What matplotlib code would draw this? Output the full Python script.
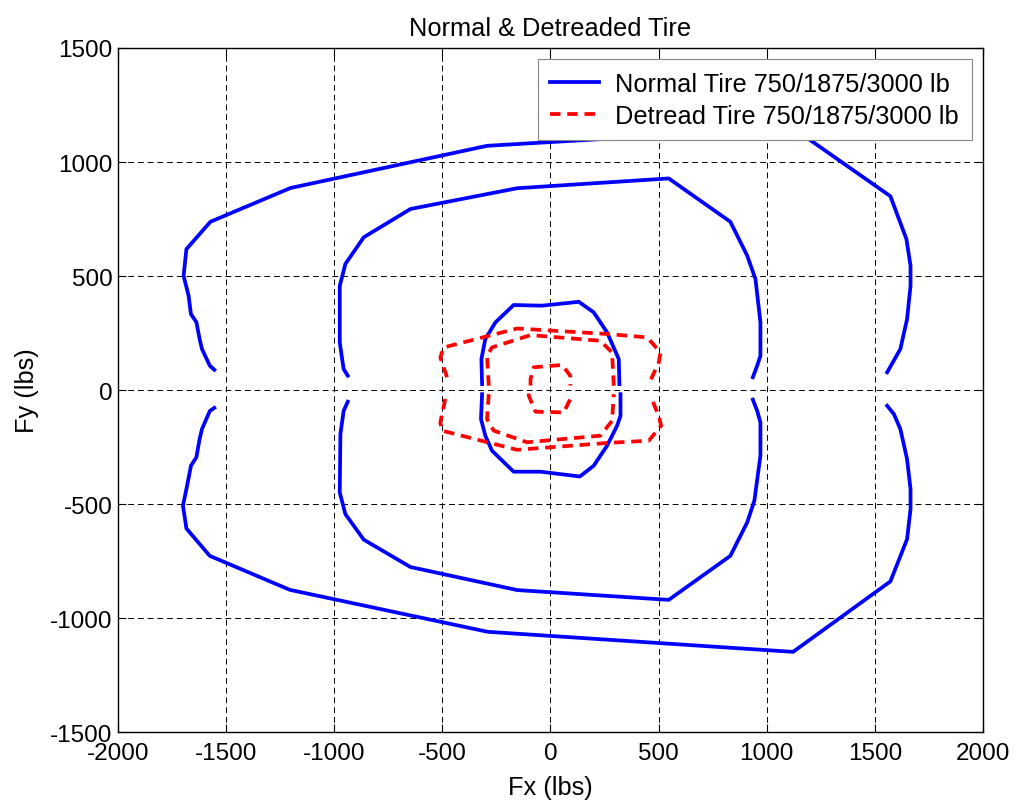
import numpy as np
import matplotlib.pyplot as plt

plt.rcParams['font.family'] = ['Liberation Sans', 'DejaVu Sans']
plt.rcParams['axes.unicode_minus'] = False

# Normal tire friction ellipses, upper (Fy>0) and lower (Fy<0) branches, at 750/1875/3000 lb
n750_up_x = [-316, -319, -301, -254, -170, -39, 131, 200, 262, 316, 319]
n750_up_y = [26, 136, 224, 297, 373, 370, 387, 341, 253, 136, 26]
n750_lo_x = [-316, -321, -301, -270, -170, -46, 136, 200, 262, 308, 324, 324]
n750_lo_y = [-18, -127, -200, -266, -358, -358, -379, -332, -244, -157, -113, -18]

n1875_up_x = [-937, -956, -963, -974, -974, -948, -863, -647, -154, 547, 832, 910, 948, 971, 971, 956, 936]
n1875_up_y = [63, 92, 136, 209, 457, 553, 670, 794, 885, 928, 738, 589, 487, 297, 150, 107, 56]
n1875_lo_x = [-937, -956, -971, -974, -948, -863, -647, -154, 547, 832, 910, 943, 971, 971, 956, 936]
n1875_lo_y = [-51, -91, -193, -449, -544, -656, -776, -877, -920, -727, -580, -485, -288, -142, -91, -42]

n3000_up_x = [-1554, -1575, -1611, -1622, -1637, -1662, -1673, -1696, -1683, -1572, -1202, -293, 1120,
              1572, 1646, 1665, 1665, 1649, 1618, 1557]
n3000_up_y = [89, 107, 180, 224, 298, 333, 414, 501, 618, 738, 886, 1071, 1150,
              850, 662, 545, 457, 311, 180, 78]
n3000_lo_x = [-1554, -1575, -1611, -1622, -1637, -1662, -1680, -1699, -1683, -1575, -1205, -290, 1122,
              1572, 1649, 1665, 1665, 1649, 1618, 1588, 1557]
n3000_lo_y = [-78, -92, -171, -215, -295, -332, -420, -507, -607, -727, -876, -1060, -1148,
              -839, -654, -522, -434, -303, -171, -105, -69]

# Detreaded tire
d750_up_x = [-92, -92, -77, 54, 92, 92]
d750_up_y = [20, 48, 100, 110, 63, 20]
d750_lo_x = [-100, -100, -69, 62, 92, 92]
d750_lo_y = [-15, -25, -95, -98, -39, -15]

d1875_up_x = [-285, -293, -270, -92, 231, 285, 293]
d1875_up_y = [19, 150, 187, 241, 216, 165, 19]
d1875_lo_x = [-285, -293, -262, -108, 231, 285, 293]
d1875_lo_y = [-18, -127, -178, -229, -200, -135, -18]

d3000_up_x = [-478, -509, -493, -154, 262, 447, 509, 501, 462]
d3000_up_y = [56, 143, 187, 270, 246, 231, 165, 121, 41]
d3000_lo_x = [-486, -509, -501, -154, 262, 455, 512, 501, 462]
d3000_lo_y = [-39, -142, -178, -262, -232, -222, -156, -113, -25]


def branch(up_x, up_y, lo_x, lo_y):
    # join both halves with a break in between
    x = np.r_[up_x, np.nan, lo_x]
    y = np.r_[up_y, np.nan, lo_y]
    return x, y


normal = [branch(n750_up_x, n750_up_y, n750_lo_x, n750_lo_y),
          branch(n1875_up_x, n1875_up_y, n1875_lo_x, n1875_lo_y),
          branch(n3000_up_x, n3000_up_y, n3000_lo_x, n3000_lo_y)]
detread = [branch(d750_up_x, d750_up_y, d750_lo_x, d750_lo_y),
           branch(d1875_up_x, d1875_up_y, d1875_lo_x, d1875_lo_y),
           branch(d3000_up_x, d3000_up_y, d3000_lo_x, d3000_lo_y)]

fs = 18.3

fig = plt.figure(figsize=(10.16, 8.03), dpi=100)
ax = fig.add_axes([0.116, 0.087, 0.8515, 0.852])

for i, (x, y) in enumerate(normal):
    ax.plot(x, y, color='blue', lw=2.7, label='Normal Tire 750/1875/3000 lb' if i == 0 else None)
for i, (x, y) in enumerate(detread):
    ax.plot(x, y, color='red', lw=2.7, ls=(0, (2.8, 1.8)),
            label='Detread Tire 750/1875/3000 lb' if i == 0 else None)

ax.set_xlim(-2000, 2000)
ax.set_ylim(-1500, 1500)
ax.set_xticks(np.arange(-2000, 2001, 500))
ax.set_yticks(np.arange(-1500, 1501, 500))
ax.grid(True, color='black', ls=(0, (6, 4)), lw=0.7)
ax.tick_params(direction='in', top=True, right=True, labelsize=17.5, length=6)
ax.tick_params(axis='x', pad=7)
ax.tick_params(axis='y', pad=4)
for s in ax.spines.values():
    s.set_linewidth(1.0)

ax.set_title('Normal & Detreaded Tire', fontsize=fs, pad=9)
ax.set_xlabel('Fx (lbs)', fontsize=fs, labelpad=8)
ax.set_ylabel('Fy (lbs)', fontsize=fs, labelpad=8)

leg = ax.legend(loc='upper right', fontsize=fs, fancybox=False, framealpha=1,
                edgecolor='#888888', handlelength=1.9, handletextpad=0.65,
                borderaxespad=0.45, labelspacing=0.3, borderpad=0.5)
leg.get_frame().set_linewidth(0.8)

fig.savefig('out.png', dpi=100)
